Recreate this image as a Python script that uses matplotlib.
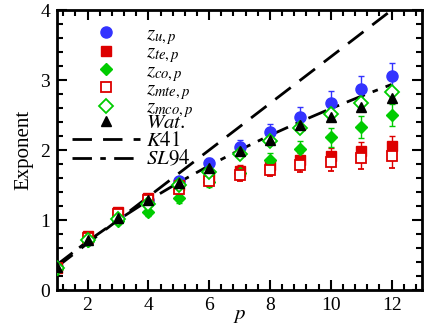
import matplotlib
matplotlib.use("Agg")
import matplotlib.pyplot as plt
from matplotlib.ticker import MultipleLocator
from matplotlib.lines import Line2D

plt.rcParams['font.family'] = ['Liberation Serif', 'DejaVu Serif']
plt.rcParams['mathtext.fontset'] = 'stix'

p = [1, 2, 3, 4, 5, 6, 7, 8, 9, 10, 11, 12]
z_u = [0.33, 0.72, 1.06, 1.28, 1.56, 1.81, 2.05, 2.26, 2.48, 2.68, 2.88, 3.06]
z_u_err = [0.02, 0.03, 0.04, 0.05, 0.06, 0.08, 0.09, 0.11, 0.13, 0.16, 0.18, 0.19]
z_te = [0.32, 0.77, 1.12, 1.32, 1.50, 1.63, 1.70, 1.78, 1.86, 1.92, 1.99, 2.06]
z_te_err = [0.02, 0.03, 0.04, 0.05, 0.06, 0.07, 0.08, 0.09, 0.10, 0.11, 0.13, 0.14]
z_co = [0.30, 0.70, 0.98, 1.11, 1.31, 1.54, 1.67, 1.86, 2.01, 2.18, 2.33, 2.50]
z_co_err = [0.02, 0.03, 0.04, 0.05, 0.06, 0.07, 0.09, 0.10, 0.12, 0.14, 0.16, 0.16]
z_mte = [0.31, 0.74, 1.09, 1.29, 1.44, 1.56, 1.64, 1.72, 1.79, 1.83, 1.88, 1.92]
z_mte_err = [0.02, 0.03, 0.04, 0.05, 0.06, 0.07, 0.08, 0.09, 0.11, 0.13, 0.15, 0.17]
z_mco = [0.32, 0.72, 1.02, 1.23, 1.50, 1.69, 1.94, 2.13, 2.32, 2.51, 2.68, 2.83]
z_mco_err = [0.01, 0.01, 0.02, 0.02, 0.03, 0.03, 0.04, 0.04, 0.05, 0.05, 0.06, 0.06]
wat = [0.33, 0.71, 1.03, 1.29, 1.53, 1.74, 1.99, 2.15, 2.36, 2.48, 2.62, 2.74]
k41 = [0.333, 0.667, 1.0, 1.333, 1.667, 2.0, 2.333, 2.667, 3.0, 3.333, 3.667, 4.0]
sl94 = [0.364, 0.696, 1.0, 1.280, 1.538, 1.778, 2.001, 2.211, 2.407, 2.593, 2.770, 2.938]

labels = ['$z_{u,p}$', '$z_{te,p}$', '$z_{co,p}$', '$z_{mte,p}$', '$z_{mco,p}$',
          '$Wat.$', '$K41$', '$SL94$']

blue = '#3333ff'
red = '#dd0000'
green = '#00cc00'

fig = plt.figure(figsize=(4.36, 3.27), dpi=100)
ax = fig.add_axes([0.131, 0.113, 0.837, 0.856])

ax.plot(p, k41, color='black', lw=2, dashes=(7, 4), zorder=2)
ax.plot(p, sl94, color='black', lw=2, dashes=(7, 3, 2, 3), zorder=2)

eb = dict(capsize=2, elinewidth=1, capthick=1, ls='none', zorder=3)
styles = [
    dict(marker='o', ms=8, color=blue, mfc=blue, mec=blue),
    dict(marker='s', ms=6.5, color=red, mfc=red, mec=red),
    dict(marker='D', ms=6.5, color=green, mfc=green, mec=green),
    dict(marker='s', ms=7, color=red, mfc='white', mec=red, mew=1.3),
    dict(marker='D', ms=7, color=green, mfc='white', mec=green, mew=1.3),
]
series = [(z_u, z_u_err), (z_te, z_te_err), (z_co, z_co_err), (z_mte, z_mte_err), (z_mco, z_mco_err)]
for (y, e), st in zip(series, styles):
    ax.errorbar(p, y, yerr=e, **st, **eb)
ax.plot(p, wat, marker='^', ms=7.5, color='black', ls='none', zorder=4)

ax.set_xlim(1, 13)
ax.set_ylim(0, 4)
ax.xaxis.set_major_locator(MultipleLocator(2))
ax.xaxis.set_minor_locator(MultipleLocator(0.4))
ax.yaxis.set_major_locator(MultipleLocator(1))
ax.yaxis.set_minor_locator(MultipleLocator(0.2))
ax.tick_params(which='both', direction='in', top=True, right=True, labelsize=14, width=1.5)
ax.tick_params(which='major', length=7, pad=5)
ax.tick_params(which='minor', length=4)
for s in ax.spines.values():
    s.set_linewidth(2)

ax.set_xlabel('$p$', fontsize=15, labelpad=-6)
ax.set_ylabel('Exponent', fontsize=15, labelpad=5)

handles = [Line2D([], [], ls='none', **st) for st in styles]
handles.append(Line2D([], [], ls='none', marker='^', ms=7.5, color='black'))
handles.append(Line2D([], [], color='black', lw=2, dashes=(7, 4)))
handles.append(Line2D([], [], color='black', lw=2, dashes=(7, 3, 2, 3)))

# two legends: rows with subscripts are taller than the plain ones
leg_kw = dict(loc='upper left', frameon=False, fontsize=15, numpoints=1, handlelength=3.3,
              handletextpad=0.25, borderaxespad=0.0, borderpad=0.0, handleheight=0.6)
leg1 = ax.legend(handles[:5], labels[:5], labelspacing=-0.16,
                 bbox_to_anchor=(0.04, 0.946), **leg_kw)
ax.add_artist(leg1)
ax.legend(handles[5:], labels[5:], labelspacing=-0.07,
          bbox_to_anchor=(0.04, 0.628), **leg_kw)

fig.savefig('out.png', dpi=100)
